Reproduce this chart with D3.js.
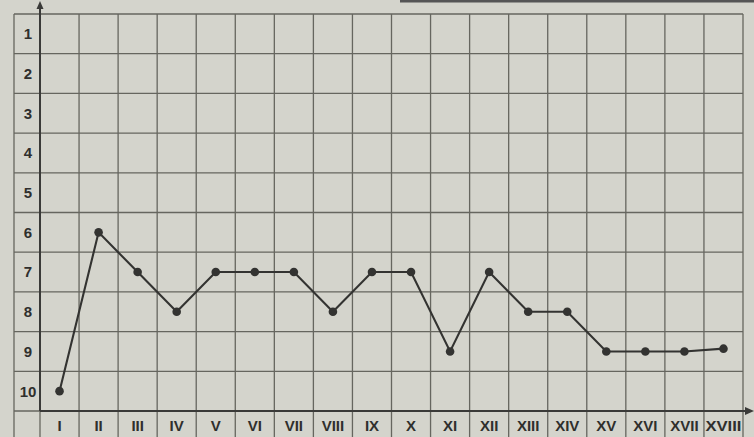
<!DOCTYPE html>
<html><head><meta charset="utf-8">
<script src="https://cdn.jsdelivr.net/npm/d3@7"></script>
<style>
html,body{margin:0;padding:0;background:#d4d4cc;}
svg{display:block;}
text{font-family:"Liberation Sans",Arial,sans-serif;font-weight:bold;fill:#2f2f2d;}
</style></head>
<body><svg id="c" width="754" height="437"></svg>
<script>
const categories = ["I","II","III","IV","V","VI","VII","VIII","IX","X","XI","XII","XIII","XIV","XV","XVI","XVII","XVIII"];
const values = [10,6,7,8,7,7,7,8,7,7,9,7,8,8,9,9,9,8.93];
const yTicks = [1,2,3,4,5,6,7,8,9,10];

(function(){
const W = 754, H = 437;
const svg = d3.select("#c");
svg.append("rect").attr("width",W).attr("height",H).attr("fill","#d4d4cc");

const pLeft = 40, pRight = 743, pTop = 14, pBottom = 411, outerLeft = 14;
const x = d3.scaleBand().domain(categories).range([pLeft, pRight]).paddingInner(0).paddingOuter(0);
const y = d3.scaleLinear().domain([0.5, 10.5]).range([pTop, pBottom]);

const grid = svg.append("g").attr("stroke","#66665f").attr("stroke-width",1.3).attr("fill","none");
d3.range(0.5, 10.6, 1).forEach(v => {
  grid.append("line").attr("x1",outerLeft).attr("x2",pRight).attr("y1",y(v)).attr("y2",y(v));
});
categories.forEach(c => {
  grid.append("line").attr("x1",x(c)).attr("x2",x(c)).attr("y1",pTop).attr("y2",H);
});
grid.append("line").attr("x1",pRight).attr("x2",pRight).attr("y1",pTop).attr("y2",H);
grid.append("line").attr("x1",outerLeft).attr("x2",outerLeft).attr("y1",pTop).attr("y2",H);

svg.append("line").attr("x1",400).attr("x2",754).attr("y1",1).attr("y2",1).attr("stroke","#555").attr("stroke-width",3);

const axisColor = "#3a3a38";
svg.append("line").attr("x1",pLeft).attr("x2",pLeft).attr("y1",pBottom).attr("y2",6).attr("stroke",axisColor).attr("stroke-width",2);
svg.append("path").attr("d",`M${pLeft-3.5},9 L${pLeft},1 L${pLeft+3.5},9 Z`).attr("fill",axisColor);
svg.append("line").attr("x1",pLeft).attr("x2",748).attr("y1",pBottom).attr("y2",pBottom).attr("stroke",axisColor).attr("stroke-width",2);
svg.append("path").attr("d",`M745,${pBottom-4} L754,${pBottom} L745,${pBottom+4} Z`).attr("fill",axisColor);

svg.append("g").selectAll("text").data(yTicks).join("text")
  .attr("x",(outerLeft+pLeft)/2+1).attr("y",d=>y(d)).attr("dy","0.36em")
  .attr("text-anchor","middle").attr("font-size",15).text(d=>d);

svg.append("g").selectAll("text").data(categories).join("text")
  .attr("x",d=>x(d)+x.bandwidth()/2).attr("y",426).attr("dy","0.36em")
  .attr("text-anchor","middle").attr("font-size",15).attr("textLength",d=>d.length>4?36:null)
  .attr("lengthAdjust","spacingAndGlyphs").text(d=>d);

const data = categories.map((c,i)=>({c, v: values[i]}));
const line = d3.line().x(d=>x(d.c)+x.bandwidth()/2).y(d=>y(d.v));
svg.append("path").datum(data).attr("d",line).attr("fill","none").attr("stroke","#333331").attr("stroke-width",2.1);
svg.append("g").selectAll("circle").data(data).join("circle")
  .attr("cx",d=>x(d.c)+x.bandwidth()/2).attr("cy",d=>y(d.v)).attr("r",4.3).attr("fill","#333331");
})();
</script></body></html>
